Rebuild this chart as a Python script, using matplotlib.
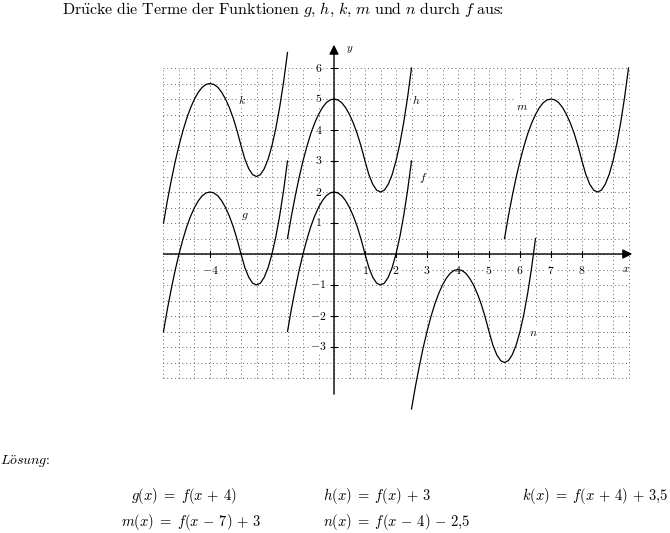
import matplotlib
matplotlib.use("Agg")
import matplotlib.pyplot as plt
import numpy as np

plt.rcParams['mathtext.fontset'] = 'cm'

# ---- data ----
# base function f, sampled every 0.125 on [-1.5, 2.5]
f_x = [-1.5, -1.375, -1.25, -1.125, -1.0, -0.875, -0.75, -0.625, -0.5, -0.375, -0.25, -0.125,
       0.0, 0.125, 0.25, 0.375, 0.5, 0.625, 0.75, 0.875, 1.0, 1.125, 1.25, 1.375,
       1.5, 1.625, 1.75, 1.875, 2.0, 2.125, 2.25, 2.375, 2.5]
f_y = [-2.5, -1.78, -1.13, -0.53, 0.0, 0.47, 0.88, 1.22, 1.5, 1.72, 1.88, 1.97,
       2.0, 1.97, 1.88, 1.72, 1.5, 1.22, 0.88, 0.47, 0.0, -0.44, -0.75, -0.94,
       -1.0, -0.94, -0.75, -0.44, 0.0, 0.56, 1.25, 2.06, 3.0]

# shifted copies: name, horizontal shift, vertical shift
curve_names = ['f', 'g', 'h', 'k', 'm', 'n']
curve_dx = [0, -4, 0, -4, 7, 4]
curve_dy = [0, 0, 3, 3.5, 3, -2.5]
label_pos_x = [2.87, -2.87, 2.65, -2.97, 6.06, 6.42]
label_pos_y = [2.45, 1.23, 4.94, 4.94, 4.77, -2.52]

x_ticks = [-4, 1, 2, 3, 4, 5, 6, 7, 8]
y_ticks = [-3, -2, -1, 1, 2, 3, 4, 5, 6]

P = r'\,+\,'
M = r'\,-\,'
E = r'\;=\;'
solutions = ['g(x)' + E + 'f(x' + P + '4)',
             'h(x)' + E + 'f(x)' + P + '3',
             'k(x)' + E + 'f(x' + P + '4)' + P + '3{,}5',
             'm(x)' + E + 'f(x' + M + '7)' + P + '3',
             'n(x)' + E + 'f(x' + M + '4)' + M + '2{,}5']

# ---- figure ----
fig = plt.figure(figsize=(6.7, 5.33), dpi=100)
ax = fig.add_axes([0, 0, 1, 1])
U = 31.0
ax.set_xlim(-334 / U, 336 / U)
ax.set_ylim(-279 / U, 254 / U)
ax.axis('off')

# dotted grid
gx0, gx1, gy0, gy1 = -5.5, 9.5, -4.0, 6.0
for gx in np.arange(gx0, gx1 + 0.01, 0.5):
    ax.plot([gx, gx], [gy0, gy1], color='0.3', lw=0.65, ls=(0, (1, 3.2)), zorder=1)
for gy in np.arange(gy0, gy1 + 0.01, 0.5):
    ax.plot([gx0, gx1], [gy, gy], color='0.3', lw=0.65, ls=(0, (1, 3.2)), zorder=1)

# axes with arrows
ax.annotate('', xy=(9.62, 0), xytext=(-5.5, 0),
            arrowprops=dict(arrowstyle='-|>', color='black', lw=1.0, mutation_scale=14,
                            shrinkA=0, shrinkB=0), zorder=3)
ax.annotate('', xy=(0, 6.75), xytext=(0, -4.52),
            arrowprops=dict(arrowstyle='-|>', color='black', lw=1.0, mutation_scale=14,
                            shrinkA=0, shrinkB=0), zorder=3)
ax.text(9.42, -0.5, '$x$', fontsize=8, ha='center', va='center', zorder=6)
ax.text(0.52, 6.6, '$y$', fontsize=8, ha='center', va='center', zorder=6)

tb = dict(facecolor='white', edgecolor='none', pad=0.6)
for t in x_ticks:
    ax.plot([t, t], [-0.1, 0.1], color='black', lw=0.8, zorder=3)
    ax.text(t, -0.52, '$%d$' % t, fontsize=8.5, ha='center', va='center', bbox=tb, zorder=2)
for t in y_ticks:
    ax.plot([-0.1, 0.1], [t, t], color='black', lw=0.8, zorder=3)
    ax.text(-0.5, t, '$%d$' % t, fontsize=8.5, ha='center', va='center', bbox=tb, zorder=2)

# curves
fx = np.array(f_x)
fy = np.array(f_y)
for name, dx, dy, lx, ly in zip(curve_names, curve_dx, curve_dy, label_pos_x, label_pos_y):
    ax.plot(fx + dx, fy + dy, color='black', lw=0.9, zorder=4)
    ax.text(lx, ly, '$%s$' % name, fontsize=8.5, ha='center', va='center', bbox=tb, zorder=5)

# texts
fig.text(62 / 670, 1 - 10 / 533,
         r'$\mathrm{Dr\ddot{u}cke\ die\ Terme\ der\ Funktionen}\ g{,}\ h{,}\ k{,}\ m\ \mathrm{und}\ n\ \mathrm{durch}\ f\ \mathrm{aus}\!\!:$',
         fontsize=11.5, ha='left', va='center')
fig.text(0 / 670, 1 - 462 / 533, r'$\mathit{L\ddot{o}sung}\!:$', fontsize=10, ha='left', va='center')

eq_x = [131, 323, 668, 121, 323]
eq_ha = ['left', 'left', 'right', 'left', 'left']
eq_y = [496, 496, 496, 522, 522]
for s, ex, ey, ha in zip(solutions, eq_x, eq_y, eq_ha):
    fig.text(ex / 670, 1 - ey / 533, '$%s$' % s, fontsize=10.5, ha=ha, va='center')

fig.savefig('out.png', dpi=100)
